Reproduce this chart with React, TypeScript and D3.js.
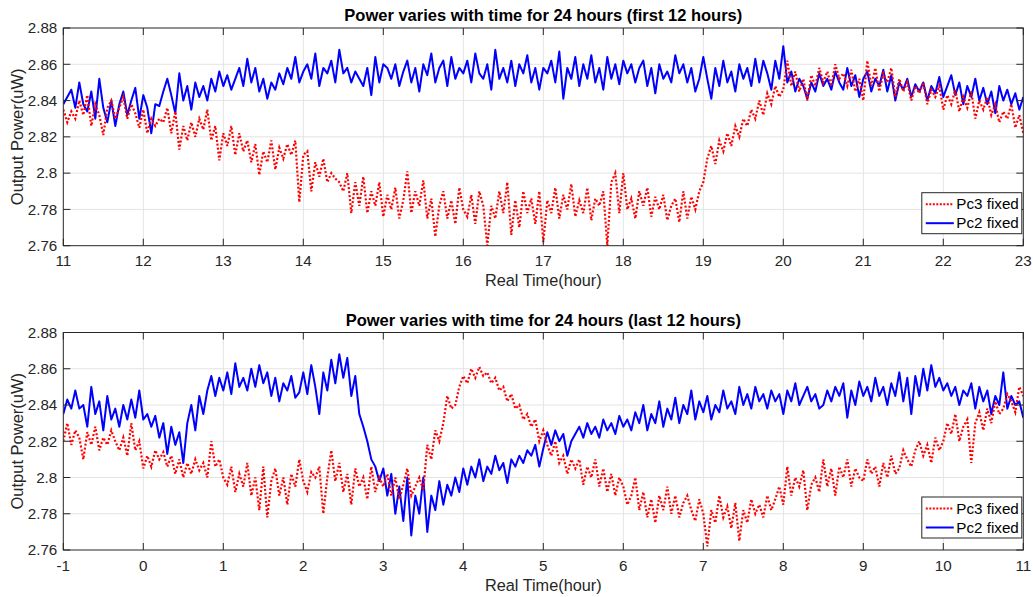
import React from "react";
import * as d3 from "d3";

// ---------- DATA ----------
const topRange = [11, 23];
const bottomRange = [-1, 11];
const xTicksTop = [11, 12, 13, 14, 15, 16, 17, 18, 19, 20, 21, 22, 23];
const xTicksBottom = [-1, 0, 1, 2, 3, 4, 5, 6, 7, 8, 9, 10, 11];
const yTicks = [2.76, 2.78, 2.8, 2.82, 2.84, 2.86, 2.88];
const yTickLabels = ["2.76", "2.78", "2.8", "2.82", "2.84", "2.86", "2.88"];

const topPc2 = [
  2.838, 2.842, 2.846, 2.836, 2.85, 2.838, 2.834, 2.845, 2.83, 2.852, 2.836, 2.828, 2.84, 2.826, 2.838, 2.845, 2.832, 2.84, 2.847, 2.83, 2.843,
  2.836, 2.822, 2.838, 2.837, 2.845, 2.852, 2.843, 2.833, 2.855, 2.84, 2.848, 2.835, 2.85, 2.842, 2.848, 2.84, 2.852, 2.845, 2.856, 2.848,
  2.854, 2.846, 2.852, 2.858, 2.848, 2.863, 2.85, 2.858, 2.845, 2.852, 2.841, 2.85, 2.846, 2.855, 2.849, 2.858, 2.852, 2.864, 2.85, 2.856,
  2.86, 2.852, 2.866, 2.848, 2.858, 2.855, 2.862, 2.85, 2.868, 2.855, 2.858, 2.85, 2.856, 2.852, 2.848, 2.858, 2.843, 2.864, 2.85, 2.86,
  2.858, 2.852, 2.86, 2.848, 2.856, 2.862, 2.85, 2.858, 2.845, 2.86, 2.854, 2.866, 2.85, 2.858, 2.862, 2.848, 2.864, 2.852, 2.858, 2.855,
  2.862, 2.85, 2.866, 2.855, 2.852, 2.86, 2.846, 2.868, 2.852, 2.858, 2.85, 2.862, 2.848, 2.86, 2.855, 2.865, 2.85, 2.858, 2.846, 2.858,
  2.855, 2.862, 2.85, 2.867, 2.841, 2.858, 2.852, 2.864, 2.848, 2.86, 2.852, 2.865, 2.85, 2.858, 2.846, 2.864, 2.852, 2.86, 2.849, 2.862,
  2.855, 2.86, 2.85, 2.858, 2.862, 2.848, 2.858, 2.844, 2.86, 2.852, 2.856, 2.85, 2.865, 2.855, 2.86, 2.85, 2.858, 2.845, 2.852, 2.864,
  2.852, 2.841, 2.858, 2.848, 2.862, 2.85, 2.856, 2.845, 2.86, 2.852, 2.858, 2.848, 2.863, 2.85, 2.862, 2.855, 2.846, 2.862, 2.852, 2.87,
  2.85, 2.856, 2.845, 2.852, 2.848, 2.841, 2.85, 2.845, 2.855, 2.848, 2.852, 2.846, 2.856, 2.85, 2.846, 2.858, 2.848, 2.854, 2.842, 2.852,
  2.856, 2.845, 2.852, 2.848, 2.857, 2.845, 2.854, 2.84, 2.85, 2.846, 2.852, 2.842, 2.849, 2.845, 2.85, 2.84, 2.848, 2.844, 2.853, 2.842,
  2.848, 2.854, 2.843, 2.85, 2.838, 2.848, 2.842, 2.852, 2.84, 2.847, 2.838, 2.845, 2.833, 2.848, 2.84, 2.846, 2.838, 2.844, 2.835, 2.842,
];

const topPc3 = [
  2.835, 2.828, 2.834, 2.83, 2.84, 2.832, 2.843, 2.826, 2.838, 2.832, 2.821, 2.836, 2.84, 2.83, 2.836, 2.842, 2.83, 2.838, 2.833, 2.825, 2.835,
  2.822, 2.83, 2.826, 2.83, 2.828, 2.836, 2.822, 2.834, 2.813, 2.826, 2.818, 2.828, 2.82, 2.83, 2.824, 2.835, 2.818, 2.826, 2.807, 2.822,
  2.815, 2.826, 2.81, 2.822, 2.812, 2.818, 2.806, 2.816, 2.799, 2.812, 2.806, 2.818, 2.802, 2.814, 2.808, 2.816, 2.81, 2.818, 2.784, 2.81,
  2.812, 2.79, 2.806, 2.798, 2.808, 2.795, 2.8, 2.797, 2.795, 2.79, 2.8, 2.778, 2.795, 2.782, 2.798, 2.778, 2.79, 2.782, 2.795, 2.776,
  2.788, 2.78, 2.792, 2.775, 2.785, 2.801, 2.778, 2.79, 2.782, 2.796, 2.775, 2.786, 2.765, 2.782, 2.79, 2.775, 2.785, 2.772, 2.792, 2.78,
  2.776, 2.788, 2.772, 2.79, 2.782, 2.76, 2.782, 2.775, 2.79, 2.778, 2.795, 2.766, 2.785, 2.77, 2.79, 2.778, 2.786, 2.772, 2.79, 2.762,
  2.785, 2.778, 2.792, 2.775, 2.788, 2.78, 2.794, 2.776, 2.785, 2.778, 2.792, 2.774, 2.786, 2.782, 2.79, 2.76, 2.795, 2.8, 2.778, 2.8,
  2.78, 2.786, 2.775, 2.79, 2.782, 2.792, 2.776, 2.787, 2.78, 2.788, 2.774, 2.782, 2.786, 2.773, 2.79, 2.775, 2.787, 2.78, 2.79, 2.795,
  2.808, 2.815, 2.805, 2.818, 2.812, 2.822, 2.815, 2.826, 2.82, 2.83, 2.826, 2.835, 2.83, 2.84, 2.832, 2.844, 2.838, 2.848, 2.842, 2.846,
  2.862, 2.848, 2.856, 2.845, 2.852, 2.84, 2.854, 2.848, 2.858, 2.85, 2.856, 2.848, 2.86, 2.852, 2.855, 2.848, 2.857, 2.845, 2.852, 2.84,
  2.862, 2.848, 2.858, 2.845, 2.855, 2.85, 2.858, 2.842, 2.852, 2.845, 2.85, 2.84, 2.848, 2.844, 2.85, 2.838, 2.846, 2.842, 2.848, 2.835,
  2.843, 2.838, 2.846, 2.834, 2.842, 2.836, 2.845, 2.83, 2.84, 2.835, 2.842, 2.832, 2.838, 2.828, 2.834, 2.83, 2.838, 2.825, 2.832, 2.822,
];

const bottomPc2 = [
  2.835, 2.843, 2.838, 2.848, 2.838, 2.84, 2.828, 2.85, 2.835, 2.842, 2.826, 2.845, 2.832, 2.838, 2.828, 2.84, 2.832, 2.843, 2.833, 2.848, 2.832,
  2.835, 2.828, 2.834, 2.822, 2.83, 2.813, 2.828, 2.818, 2.825, 2.808, 2.83, 2.84, 2.826, 2.845, 2.835, 2.848, 2.856, 2.845, 2.855, 2.848,
  2.858, 2.846, 2.863, 2.85, 2.855, 2.848, 2.86, 2.85, 2.862, 2.852, 2.858, 2.845, 2.855, 2.842, 2.852, 2.848, 2.856, 2.844, 2.847, 2.858,
  2.846, 2.862, 2.85, 2.835, 2.858, 2.848, 2.865, 2.852, 2.868, 2.855, 2.866, 2.845, 2.856, 2.835, 2.828, 2.82, 2.81, 2.806, 2.798, 2.805,
  2.79, 2.802, 2.78, 2.795, 2.776, 2.8, 2.768, 2.79, 2.78, 2.8, 2.77, 2.79, 2.782, 2.798, 2.785, 2.796, 2.79, 2.8, 2.792, 2.805,
  2.796, 2.806, 2.8, 2.81, 2.798, 2.806, 2.802, 2.812, 2.804, 2.808, 2.797, 2.81, 2.806, 2.812, 2.808, 2.815, 2.812, 2.818, 2.806, 2.816,
  2.825, 2.818, 2.826, 2.82, 2.824, 2.812, 2.82, 2.824, 2.828, 2.822, 2.83, 2.824, 2.828, 2.822, 2.832, 2.826, 2.83, 2.824, 2.834, 2.828,
  2.832, 2.826, 2.836, 2.83, 2.84, 2.826, 2.835, 2.83, 2.842, 2.828, 2.838, 2.832, 2.844, 2.83, 2.84, 2.835, 2.848, 2.832, 2.842, 2.836,
  2.845, 2.832, 2.84, 2.836, 2.848, 2.838, 2.842, 2.835, 2.85, 2.84, 2.846, 2.838, 2.85, 2.842, 2.846, 2.838, 2.848, 2.842, 2.846, 2.835,
  2.848, 2.842, 2.852, 2.84, 2.845, 2.85, 2.842, 2.846, 2.838, 2.84, 2.848, 2.842, 2.85, 2.845, 2.852, 2.833, 2.848, 2.84, 2.853, 2.845,
  2.85, 2.842, 2.855, 2.845, 2.85, 2.84, 2.852, 2.845, 2.858, 2.842, 2.855, 2.835, 2.856, 2.845, 2.86, 2.848, 2.862, 2.85, 2.855, 2.848,
  2.852, 2.845, 2.85, 2.84, 2.848, 2.845, 2.852, 2.838, 2.85, 2.842, 2.848, 2.835, 2.845, 2.84, 2.858, 2.838, 2.845, 2.84, 2.842, 2.833,
];

const bottomPc3 = [
  2.82, 2.83, 2.818, 2.826, 2.822, 2.81, 2.825, 2.818, 2.828, 2.815, 2.822, 2.818, 2.826, 2.82, 2.815, 2.822, 2.812, 2.83, 2.815, 2.82, 2.805,
  2.812, 2.806, 2.815, 2.81, 2.814, 2.806, 2.812, 2.802, 2.81, 2.8, 2.808, 2.802, 2.81, 2.804, 2.808, 2.8, 2.82, 2.806, 2.81, 2.8,
  2.796, 2.806, 2.792, 2.802, 2.795, 2.808, 2.79, 2.8, 2.782, 2.806, 2.778, 2.798, 2.805, 2.79, 2.8, 2.785, 2.802, 2.795, 2.81, 2.798,
  2.792, 2.803, 2.8, 2.806, 2.78, 2.8, 2.815, 2.798, 2.808, 2.792, 2.802, 2.785, 2.805, 2.795, 2.8, 2.788, 2.806, 2.792, 2.8, 2.795,
  2.802, 2.79, 2.8, 2.788, 2.796, 2.805, 2.79, 2.795, 2.8, 2.793, 2.818, 2.81, 2.826, 2.82, 2.83, 2.845, 2.838, 2.84, 2.85, 2.856,
  2.852, 2.86, 2.855, 2.861, 2.856, 2.858, 2.852, 2.855, 2.848, 2.85, 2.842, 2.846, 2.838, 2.84, 2.832, 2.835, 2.828, 2.832, 2.82, 2.826,
  2.818, 2.812, 2.82, 2.808, 2.812, 2.802, 2.81, 2.805, 2.81, 2.796, 2.806, 2.8, 2.81, 2.795, 2.805, 2.792, 2.802, 2.79, 2.8, 2.795,
  2.785, 2.79, 2.8, 2.782, 2.792, 2.778, 2.788, 2.775, 2.79, 2.782, 2.795, 2.78, 2.79, 2.778, 2.786, 2.79, 2.782, 2.776, 2.788, 2.78,
  2.762, 2.782, 2.775, 2.79, 2.778, 2.784, 2.772, 2.786, 2.765, 2.782, 2.775, 2.788, 2.78, 2.785, 2.778, 2.79, 2.782, 2.788, 2.795, 2.785,
  2.806, 2.79, 2.8, 2.795, 2.804, 2.782, 2.796, 2.8, 2.792, 2.81, 2.795, 2.805, 2.79, 2.806, 2.8, 2.81, 2.795, 2.805, 2.8, 2.798,
  2.81, 2.802, 2.806, 2.795, 2.808, 2.8, 2.812, 2.802, 2.805, 2.815, 2.81, 2.806, 2.815, 2.82, 2.812, 2.818, 2.808, 2.822, 2.815, 2.82,
  2.83, 2.824, 2.835, 2.82, 2.828, 2.832, 2.808, 2.83, 2.836, 2.826, 2.838, 2.83, 2.842, 2.835, 2.838, 2.846, 2.842, 2.836, 2.85, 2.845,
];

const titles = [
  "Power varies with time for 24 hours (first 12 hours)",
  "Power varies with time for 24 hours (last 12 hours)",
];
const xLabel = "Real Time(hour)";
const yLabel = "Output Power(uW)";
const legendLabels = ["Pc3 fixed", "Pc2 fixed"];

// ---------- LAYOUT ----------
const W = 1033;
const H = 597;
const FONT = "'Liberation Sans', Arial, Helvetica, sans-serif";
const RED = "#ff0000";
const BLUE = "#0000ff";
const AXIS = "#262626";
const GRID = "#e3e3e3";

type PanelProps = {
  top: number;
  bottom: number;
  domain: number[];
  ticks: number[];
  title: string;
  pc2: number[];
  pc3: number[];
};

function Panel({ top, bottom, domain, ticks, title, pc2, pc3 }: PanelProps) {
  const left = 63.3;
  const right = 1023.3;
  const x = d3.scaleLinear().domain(domain).range([left, right]);
  const y = d3.scaleLinear().domain([2.76, 2.88]).range([bottom, top]);
  const toPts = (arr: number[]) =>
    arr.map((v, i) => [domain[0] + (i * (domain[1] - domain[0])) / (arr.length - 1), v] as [number, number]);
  const line = d3
    .line<[number, number]>()
    .x((d) => x(d[0]))
    .y((d) => y(Math.max(2.76, d[1])));
  const clipId = `clip-${Math.round(top)}`;
  const tickLen = 7;
  const midY = (top + bottom) / 2;
  return (
    <g>
      <defs>
        <clipPath id={clipId}>
          <rect x={left} y={top} width={right - left} height={bottom - top} />
        </clipPath>
      </defs>
      <rect x={left} y={top} width={right - left} height={bottom - top} fill="#fff" />
      {/* grid */}
      {ticks.slice(1, -1).map((t) => (
        <line key={"gx" + t} x1={x(t)} x2={x(t)} y1={top} y2={bottom} stroke={GRID} strokeWidth={1} />
      ))}
      {yTicks.slice(1, -1).map((t) => (
        <line key={"gy" + t} x1={left} x2={right} y1={y(t)} y2={y(t)} stroke={GRID} strokeWidth={1} />
      ))}
      {/* data */}
      <g clipPath={`url(#${clipId})`}>
        <path d={line(toPts(pc2)) || ""} fill="none" stroke={BLUE} strokeWidth={2} strokeLinejoin="round" />
        <path
          d={line(toPts(pc3)) || ""}
          fill="none"
          stroke={RED}
          strokeWidth={2.2}
          strokeDasharray="2,2"
        />
      </g>
      {/* box */}
      <rect x={left} y={top} width={right - left} height={bottom - top} fill="none" stroke={AXIS} strokeWidth={1} />
      {/* ticks */}
      {ticks.map((t) => (
        <g key={"tx" + t}>
          <line x1={x(t)} x2={x(t)} y1={bottom} y2={bottom - tickLen} stroke={AXIS} />
          <line x1={x(t)} x2={x(t)} y1={top} y2={top + tickLen} stroke={AXIS} />
          <text x={x(t)} y={bottom + 20.5} textAnchor="middle" fontSize={15.2} fill={AXIS} fontFamily={FONT}>
            {t}
          </text>
        </g>
      ))}
      {yTicks.map((t, i) => (
        <g key={"ty" + t}>
          <line x1={left} x2={left + tickLen} y1={y(t)} y2={y(t)} stroke={AXIS} />
          <line x1={right} x2={right - tickLen} y1={y(t)} y2={y(t)} stroke={AXIS} />
          <text x={left - 6} y={y(t) + 5.3} textAnchor="end" fontSize={15.2} fill={AXIS} fontFamily={FONT}>
            {yTickLabels[i]}
          </text>
        </g>
      ))}
      {/* title & labels */}
      <text
        x={(left + right) / 2}
        y={top - 7}
        textAnchor="middle"
        fontSize={16.5}
        fontWeight="bold"
        fill="#000"
        fontFamily={FONT}
      >
        {title}
      </text>
      <text x={(left + right) / 2} y={bottom + 40.5} textAnchor="middle" fontSize={16.3} fill={AXIS} fontFamily={FONT}>
        {xLabel}
      </text>
      <text
        transform={`translate(22.5, ${midY}) rotate(-90)`}
        textAnchor="middle"
        fontSize={16.5}
        fill={AXIS}
        fontFamily={FONT}
      >
        {yLabel}
      </text>
      {/* legend */}
      <g transform={`translate(${right - 101.5}, ${bottom - 53})`}>
        <rect x={0} y={0} width={100} height={41} fill="#fff" stroke={AXIS} strokeWidth={1} />
        <line x1={4} x2={32} y1={11.5} y2={11.5} stroke={RED} strokeWidth={2} strokeDasharray="2,1.5" />
        <text x={34.5} y={16.8} fontSize={15.2} fill="#000" fontFamily={FONT}>
          {legendLabels[0]}
        </text>
        <line x1={4} x2={32} y1={30.5} y2={30.5} stroke={BLUE} strokeWidth={2} />
        <text x={34.5} y={35.8} fontSize={15.2} fill="#000" fontFamily={FONT}>
          {legendLabels[1]}
        </text>
      </g>
    </g>
  );
}

export default function App() {
  return (
    <svg
      width={W}
      height={H}
      viewBox={`0 0 ${W} ${H}`}
      style={{ position: "absolute", left: 0, top: 0, background: "#fff" }}
    >
      <rect x={0} y={0} width={W} height={H} fill="#fff" />
      <Panel
        top={28}
        bottom={245.7}
        domain={topRange}
        ticks={xTicksTop}
        title={titles[0]}
        pc2={topPc2}
        pc3={topPc3}
      />
      <Panel
        top={332.5}
        bottom={550}
        domain={bottomRange}
        ticks={xTicksBottom}
        title={titles[1]}
        pc2={bottomPc2}
        pc3={bottomPc3}
      />
    </svg>
  );
}
